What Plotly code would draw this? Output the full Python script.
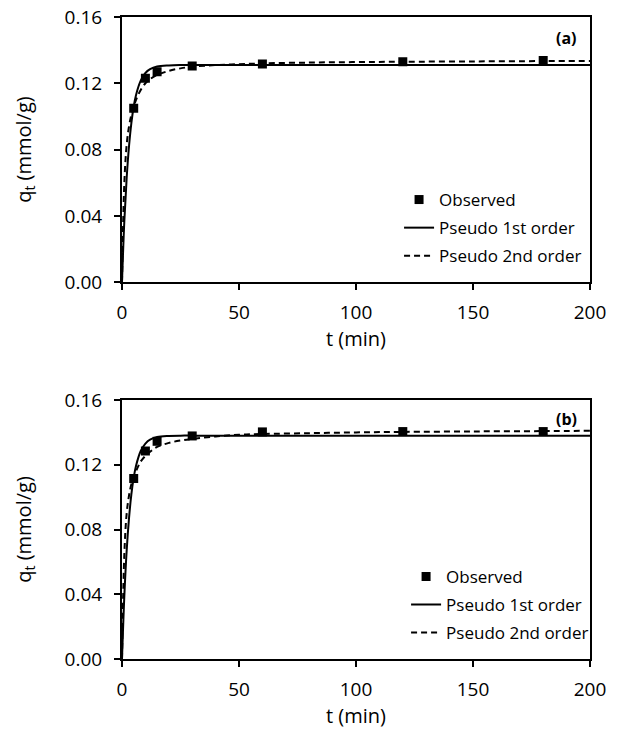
import plotly.graph_objects as go

# observed points
t_obs = [5, 10, 15, 30, 60, 120, 180]
qa_obs = [0.105, 0.123, 0.127, 0.1305, 0.1316, 0.133, 0.1338]
qb_obs = [0.1115, 0.1285, 0.1345, 0.1378, 0.1403, 0.1405, 0.1405]

# fitted curves
t_fit = [0, 1, 2, 3, 4, 5, 6, 8, 10, 12, 15, 20, 25, 30, 40, 50, 60, 80, 100, 120, 150, 180, 200]
qa_pfo = [0, 0.037, 0.063, 0.082, 0.096, 0.106, 0.113, 0.1216, 0.1262, 0.1285, 0.1301, 0.1308, 0.131,
          0.131, 0.131, 0.131, 0.131, 0.131, 0.131, 0.131, 0.131, 0.131, 0.131]
qa_pso = [0, 0.060, 0.083, 0.094, 0.101, 0.106, 0.110, 0.116, 0.120, 0.1225, 0.125, 0.1275, 0.129,
          0.130, 0.131, 0.1315, 0.132, 0.1325, 0.1328, 0.133, 0.1332, 0.1334, 0.1335]
qb_pfo = [0, 0.039, 0.067, 0.087, 0.1017, 0.112, 0.1194, 0.1285, 0.1331, 0.1355, 0.1371, 0.1378, 0.138,
          0.138, 0.138, 0.138, 0.138, 0.138, 0.138, 0.138, 0.138, 0.138, 0.138]
qb_pso = [0, 0.065, 0.090, 0.101, 0.108, 0.112, 0.116, 0.122, 0.1255, 0.128, 0.131, 0.1335, 0.135,
          0.136, 0.1375, 0.1385, 0.139, 0.1395, 0.140, 0.1403, 0.1406, 0.1408, 0.141]

x_ticks = [0, 50, 100, 150, 200]
y_ticks = [0, 0.04, 0.08, 0.12, 0.16]

FONT = "Open Sans"
DASH = "6px,4px"

fig = go.Figure()

panels = [
    ("x", "y", "legend", qa_obs, qa_pfo, qa_pso),
    ("x2", "y2", "legend2", qb_obs, qb_pfo, qb_pso),
]
for xa, ya, lg, obs, pfo, pso in panels:
    fig.add_trace(go.Scatter(
        x=t_obs, y=obs, mode="markers", name="Observed", xaxis=xa, yaxis=ya,
        legend=lg, legendgroup=lg + "o",
        marker=dict(symbol="square", size=9, color="black"),
    ))
    fig.add_trace(go.Scatter(
        x=t_fit, y=pfo, mode="lines", name="Pseudo 1st order", xaxis=xa, yaxis=ya,
        legend=lg, legendgroup=lg + "1", line=dict(color="black", width=2, shape="spline"),
    ))
    fig.add_trace(go.Scatter(
        x=t_fit, y=pso, mode="lines", name="Pseudo 2nd order", xaxis=xa, yaxis=ya,
        legend=lg, legendgroup=lg + "2",
        line=dict(color="black", width=2, dash=DASH, shape="spline"),
    ))

xax = dict(range=[0, 200], tickvals=x_ticks, ticks="outside", ticklen=6, tickwidth=2,
           tickcolor="black", showline=True, linecolor="black", linewidth=2, mirror=True,
           showgrid=False, zeroline=False, automargin=False, ticklabelstandoff=6,
           ticklabeloverflow="allow", tickfont=dict(size=19, color="black"),
           title=dict(text="t (min)", font=dict(size=20, color="black"), standoff=8))
yax = dict(range=[0, 0.16], tickvals=y_ticks, tickformat=".2f", ticks="outside", ticklen=6,
           tickwidth=2, tickcolor="black", showline=True, linecolor="black", linewidth=2,
           mirror=True, showgrid=False, zeroline=False, automargin=False, ticklabelstandoff=8,
           ticklabeloverflow="allow", tickfont=dict(size=19, color="black"),
           title=dict(text="q<sub>t</sub> (mmol/g)", font=dict(size=20, color="black"), standoff=28))

leg = dict(font=dict(size=17, color="black", family=FONT), bgcolor="rgba(0,0,0,0)",
           traceorder="grouped", tracegroupgap=3, xanchor="left", yanchor="top")

# page body margin is removed below, so margins are in screen pixels
fig.update_layout(
    width=620, height=736,
    margin=dict(l=122, r=30, t=17, b=77),
    paper_bgcolor="white", plot_bgcolor="white",
    font=dict(family=FONT, color="black"),
    xaxis=dict(xax, domain=[0, 1], anchor="y"),
    yaxis=dict(yax, domain=[0.587, 1], anchor="x"),
    xaxis2=dict(xax, domain=[0, 1], anchor="y2"),
    yaxis2=dict(yax, domain=[0, 0.4034], anchor="x2"),
    legend=dict(leg, x=0.592, y=0.743),
    legend2=dict(leg, x=0.607, y=0.156),
    annotations=[
        dict(text="<b>(a)</b>", x=0.976, y=0.921, xref="x domain", yref="y domain",
             xanchor="right", yanchor="middle", showarrow=False, font=dict(size=16)),
        dict(text="<b>(b)</b>", x=0.976, y=0.927, xref="x2 domain", yref="y2 domain",
             xanchor="right", yanchor="middle", showarrow=False, font=dict(size=16)),
    ],
)

fig.write_html("out.html", config={"displayModeBar": False},
               post_script="document.body.style.margin = '0';")
